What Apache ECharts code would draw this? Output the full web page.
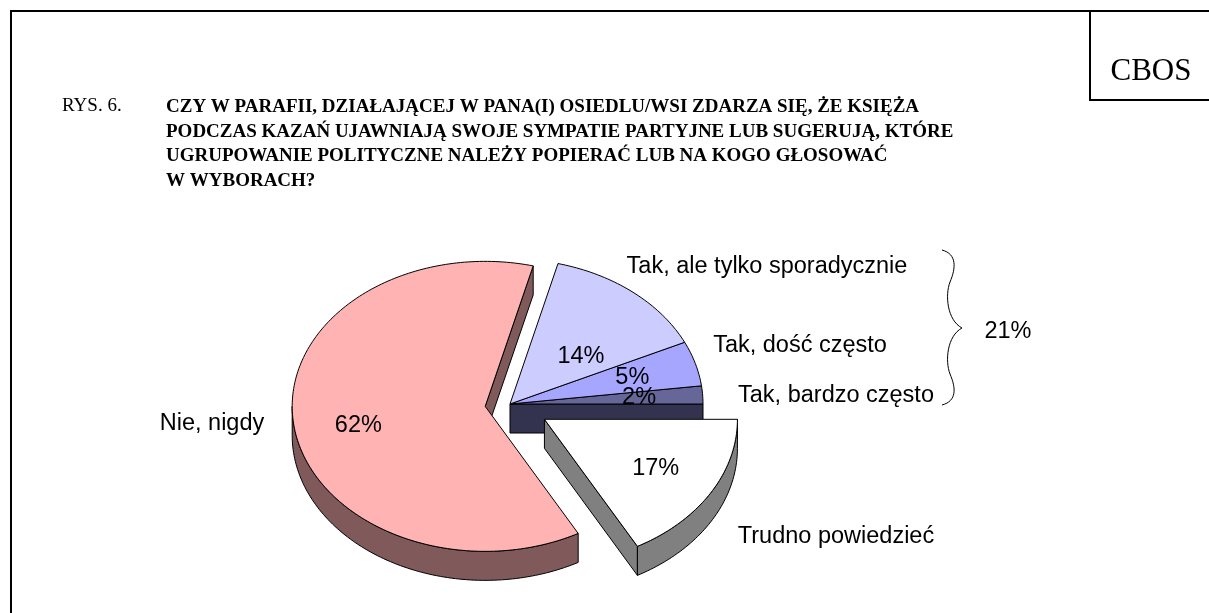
<!DOCTYPE html>
<html>
<head>
<meta charset="utf-8">
<title>CBOS - Rys. 6</title>
<script src="https://cdn.jsdelivr.net/npm/echarts@6/dist/echarts.min.js"></script>
<style>
    html, body { margin: 0; padding: 0; background: #fff; }
    #main { width: 1209px; height: 613px; }
</style>
</head>
<body>
<div id="main"></div>
<script>
// dane (kolejność przeciwnie do ruchu wskazówek zegara, od godziny 3)
const categories = ['Tak, bardzo często', 'Tak, dość często', 'Tak, ale tylko sporadycznie', 'Nie, nigdy', 'Trudno powiedzieć'];
const values = [2, 5, 14, 62, 17];
const titleLines = [
    'CZY W PARAFII, DZIAŁAJĄCEJ W PANA(I) OSIEDLU/WSI ZDARZA SIĘ, ŻE KSIĘŻA',
    'PODCZAS KAZAŃ UJAWNIAJĄ SWOJE SYMPATIE PARTYJNE LUB SUGERUJĄ, KTÓRE',
    'UGRUPOWANIE POLITYCZNE NALEŻY POPIERAĆ LUB NA KOGO GŁOSOWAĆ',
    'W WYBORACH?'
];

// wygląd
const colors = ['#666699', '#a6a6ff', '#ccccff', '#ffb3b3', '#ffffff'];
const sideColors = ['#333350', '#535380', '#666680', '#805a5a', '#808080'];
const explode = [0, 0, 0, 25, 40];
const labelFrac = [0.67, 0.66, 0.49, 0.67, 0.67];
const labelShift = [0, 0, -9, 4, 0];
const outsideLabelPos = [[836, 396], [800, 346], [767, 267], [212, 424], [836, 537]];

const cx = 510, cy = 404, rx = 193, ry = 145, depth = 29;
const labelFont = '23.5px "Liberation Sans", Arial, sans-serif';
const serif = '"Liberation Serif", "Times New Roman", serif';

const total = values.reduce((a, b) => a + b, 0);
const angles = [];
let acc = 0;
values.forEach(v => {
    const a0 = acc / total * Math.PI * 2;
    acc += v;
    angles.push([a0, acc / total * Math.PI * 2]);
});

function center(i) {
    const mid = (angles[i][0] + angles[i][1]) / 2;
    return [cx + explode[i] * Math.cos(mid), cy - explode[i] * ry / rx * Math.sin(mid)];
}
function pt(c, t, f) {
    return [c[0] + rx * f * Math.cos(t), c[1] - ry * f * Math.sin(t)];
}
function arc(c, s, e) {
    const n = Math.max(2, Math.ceil(Math.abs(e - s) / 0.02));
    const pts = [];
    for (let k = 0; k <= n; k++) pts.push(pt(c, s + (e - s) * k / n, 1));
    return pts;
}
function down(p) { return [p[0], p[1] + depth]; }

// boki (ściany) – rysowane pod wierzchami
function renderSides(params, api) {
    const i = params.dataIndex;
    const v = api.value(0);
    const a0 = angles[i][0], a1 = angles[i][0] + v / total * Math.PI * 2;
    const c = center(i);
    const n = values.length;
    const prev = (i + n - 1) % n, next = (i + 1) % n;
    const style = { fill: sideColors[i], stroke: '#000', lineWidth: 1 };
    const children = [];
    if (Math.cos(a0) > 0 && explode[i] !== explode[prev]) {
        const p = pt(c, a0, 1);
        children.push({ type: 'polygon', shape: { points: [c, p, down(p), down(c)] }, style: style });
    }
    if (Math.cos(a1) < 0 && explode[i] !== explode[next]) {
        const p = pt(c, a1, 1);
        children.push({ type: 'polygon', shape: { points: [c, p, down(p), down(c)] }, style: style });
    }
    [[Math.PI, 2 * Math.PI], [3 * Math.PI, 4 * Math.PI]].forEach(r => {
        const s = Math.max(a0, r[0]), e = Math.min(a1, r[1]);
        if (e > s) {
            const top = arc(c, s, e);
            const bottom = top.map(down).reverse();
            children.push({ type: 'polygon', shape: { points: top.concat(bottom) }, style: style });
        }
    });
    return { type: 'group', children: children };
}

// wierzchy wycinków + etykiety
function renderTops(params, api) {
    const i = params.dataIndex;
    const v = api.value(0);
    const a0 = angles[i][0], a1 = angles[i][0] + v / total * Math.PI * 2;
    const c = center(i);
    const mid = (a0 + a1) / 2 + labelShift[i] * Math.PI / 180;
    const lp = pt(c, mid, labelFrac[i]);
    return {
        type: 'group',
        children: [
            {
                type: 'polygon',
                shape: { points: [c].concat(arc(c, a0, a1)) },
                style: { fill: colors[i], stroke: '#000', lineWidth: 1 }
            },
            {
                type: 'text',
                z2: 10,
                style: { text: v + '%', x: lp[0], y: lp[1], fill: '#000', font: labelFont, align: 'center', verticalAlign: 'middle' }
            },
            {
                type: 'text',
                z2: 10,
                style: { text: categories[i], x: outsideLabelPos[i][0], y: outsideLabelPos[i][1], fill: '#000', font: labelFont, align: 'center', verticalAlign: 'middle' }
            }
        ]
    };
}

const seriesData = values.map((v, i) => ({ name: categories[i], value: [v] }));
const takSum = values[0] + values[1] + values[2];

// klamra z czterech krzywych
const braceCurves = [
    [942, 250, 957, 254, 956, 268, 950, 282],
    [950, 282, 945, 295, 947, 320, 962, 328],
    [962, 328, 947, 336, 945, 361, 950, 374],
    [950, 374, 956, 388, 957, 401, 942, 405]
];

const graphics = [
    // ramka
    { type: 'polyline', shape: { points: [[11, 613], [11, 11], [1209, 11]] }, style: { stroke: '#000', lineWidth: 2, fill: null } },
    { type: 'polyline', shape: { points: [[1090, 11], [1090, 100], [1209, 100]] }, style: { stroke: '#000', lineWidth: 2, fill: null } },
    { type: 'text', style: { text: 'CBOS', x: 1151, y: 72, font: '31px ' + serif, fill: '#000', align: 'center', verticalAlign: 'middle' } },
    { type: 'text', style: { text: 'RYS. 6.', x: 62, y: 106, font: '19px ' + serif, fill: '#000', verticalAlign: 'middle' } },
    { type: 'text', style: { text: takSum + '%', x: 1008, y: 332, font: labelFont, fill: '#000', align: 'center', verticalAlign: 'middle' } }
];
braceCurves.forEach(b => {
    graphics.push({
        type: 'bezierCurve',
        shape: { x1: b[0], y1: b[1], cpx1: b[2], cpy1: b[3], cpx2: b[4], cpy2: b[5], x2: b[6], y2: b[7] },
        style: { stroke: '#000', lineWidth: 1, fill: null }
    });
});
titleLines.forEach((t, k) => {
    graphics.push({ type: 'text', style: { text: t, x: 166, y: 107 + k * 24.7, font: 'bold 19px ' + serif, fill: '#000', verticalAlign: 'middle' } });
});

const chart = echarts.init(document.getElementById('main'));
chart.setOption({
    backgroundColor: '#fff',
    animation: false,
    graphic: graphics,
    series: [
        { type: 'custom', coordinateSystem: 'none', z: 1, renderItem: renderSides, data: seriesData, silent: true },
        { type: 'custom', coordinateSystem: 'none', z: 2, renderItem: renderTops, data: seriesData, silent: true }
    ]
});
</script>
</body>
</html>
